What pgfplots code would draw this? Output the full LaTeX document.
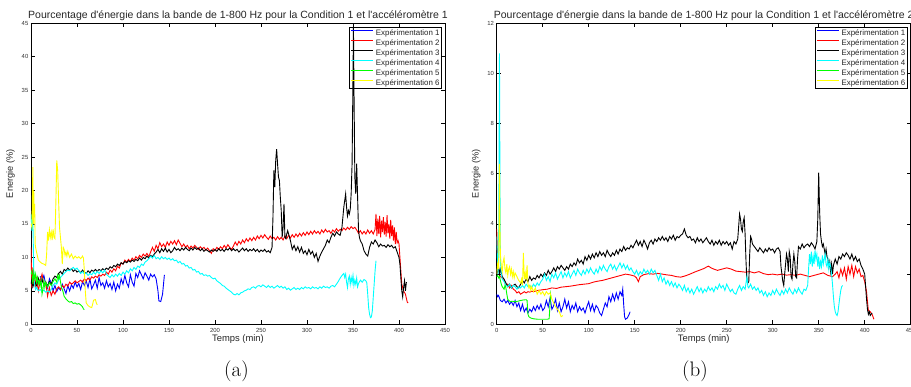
\documentclass[border=0pt]{standalone}
\usepackage{pgfplots}
\pgfplotsset{compat=1.18}
\usepackage{fontspec}
\newfontfamily\arial{Liberation Sans}
\definecolor{mblue}{rgb}{0,0,1}
\definecolor{mred}{rgb}{1,0,0}
\definecolor{mcyan}{rgb}{0,1,1}
\definecolor{mgreen}{rgb}{0,1,0}
\definecolor{myellow}{rgb}{1,1,0}
\pgfplotsset{
  myax/.style={
    scale only axis, width=414pt, height=301pt, anchor=south west,
    xmin=0, xmax=450, xtick={0,50,...,450},
    tick align=inside, tick pos=both, xticklabel pos=lower, yticklabel pos=left,
    major tick length=4pt,
    axis line style={black, line width=0.8pt},
    every tick/.style={black, line width=0.6pt},
    /pgf/number format/assume math mode=true,
    ticklabel style={font=\arial\fontsize{5.9}{6}\selectfont, text=black!80},
    yticklabel style={inner sep=0pt, xshift=-2.5pt},
    xticklabel style={inner sep=0pt, yshift=-3.4pt},
    every axis title/.style={at={(axis description cs:0.5,1.016)}, anchor=base, font=\arial\fontsize{10.5}{12}\selectfont, text=black!85},
    every axis x label/.style={at={(axis description cs:0.5,-0.057)}, anchor=base, font=\arial\fontsize{9.4}{10}\selectfont, text=black!85},
    every axis y label/.style={at={(axis description cs:-0.0435,0.5)}, rotate=90, anchor=base, font=\arial\fontsize{9.2}{10}\selectfont, text=black!85},
    xlabel={Temps (min)}, ylabel={Energie (\%)},
    no markers, every axis plot/.append style={line width=0.9pt},
    legend cell align=left,
    legend image code/.code={\draw[#1, line width=1pt] (0pt,2.6pt) -- (22pt,2.6pt);},
    legend style={at={(axis description cs:0.992,0.988)}, anchor=north east,
      draw=black, line width=0.8pt, fill=none, inner sep=1.2pt,
      font=\arial\fontsize{7.9}{8}\selectfont, text=black!85,
      nodes={inner sep=0.5pt, text height=6pt, text depth=1.5pt},
      row sep=1.5pt, column sep=1.5pt},
  }
}
\begin{document}
\begin{tikzpicture}
%%%%%%%%%%%%%%%%%%%%%%%%%%%%%%%% (a)
\begin{axis}[myax, at={(31pt,62.7pt)}, ymin=0, ymax=45, ytick={0,5,...,45},
  title={Pourcentage d'énergie dans la bande de 1-800 Hz pour la Condition 1 et l'accéléromètre 1}]
\addplot[mblue] coordinates {(10,7.2)(12,6.5)(14,7.3)(16,6.0)(18,5.4)(20,6.8)(22,6.2)(24,5.0)(26,5.8)(28,4.9)(30,5.5)(32,5.1)(34,6.0)(36,5.3)(38,4.6)(40,5.8)(42,5.0)(44,5.9)(46,5.4)(48,6.3)(50,5.6)(52,6.1)(54,5.2)(56,6.4)(58,5.8)(60,6.5)(62,5.5)(64,6.8)(66,5.3)(68,5.9)(70,6.6)(72,5.4)(74,7.0)(76,5.8)(78,6.2)(80,5.4)(82,6.5)(84,5.6)(86,6.1)(88,5.2)(90,6.3)(92,5.0)(94,6.0)(96,5.4)(98,6.8)(100,6.0)(102,7.3)(104,6.2)(106,5.6)(108,7.4)(110,6.3)(112,5.7)(114,7.6)(116,7.0)(118,8.0)(120,7.4)(122,6.8)(124,7.7)(126,7.2)(128,6.6)(130,7.5)(132,7.1)(134,7.4)(136,6.8)(138,5.0)(139,3.5)(141,3.4)(143,4.5)(145,7.4)};
\addlegendentry{Expérimentation 1}
\addplot[mred] coordinates {(0,11.5)(0.5,8)(1,5.5)(2,8.5)(3,6)(4,7.2)(5,5.5)(6,6.8)(8,5.0)(10,6.5)(12,7.5)(14,5.8)(16,6.3)(18,4.2)(20,5.5)(22,4.3)(24,5.0)(26,4.5)(28,5.3)(30,5.6)(32,5.2)(34,5.8)(36,5.5)(38,6.0)(40,5.7)(42,6.3)(44,6.0)(46,6.2)(48,6.5)(50,6.2)(52,6.4)(54,6.6)(56,6.3)(58,6.8)(60,6.5)(62,6.9)(64,6.6)(66,7.1)(68,6.9)(70,7.2)(72,7.0)(74,7.4)(76,7.2)(78,7.5)(80,7.3)(82,7.8)(84,7.5)(86,8.1)(88,7.8)(90,8.3)(92,8.0)(94,8.7)(96,8.4)(98,9.2)(100,9.0)(102,9.6)(104,9.3)(106,9.7)(108,9.4)(110,9.9)(112,9.6)(114,10.1)(116,9.8)(118,10.3)(120,10.0)(122,10.5)(124,10.2)(126,10.6)(128,10.1)(130,10.8)(132,11.5)(134,10.9)(136,11.8)(138,11.3)(140,12.2)(142,11.6)(144,12.0)(146,11.5)(148,12.3)(150,11.8)(152,12.4)(154,12.0)(156,12.5)(158,11.9)(160,12.6)(162,12.1)(164,11.6)(166,12.0)(168,11.5)(170,11.8)(172,11.3)(174,11.7)(176,11.4)(178,11.8)(180,11.5)(182,11.2)(184,11.6)(186,11.3)(188,11.5)(190,11.1)(192,11.4)(194,11.0)(196,10.6)(198,11.3)(200,11.0)(202,11.5)(204,11.2)(206,11.6)(208,11.3)(210,11.8)(212,11.4)(214,11.9)(216,11.5)(218,11.2)(220,11.7)(222,12.3)(224,11.8)(226,12.4)(228,12.0)(230,12.6)(232,12.2)(234,12.8)(236,12.4)(238,12.9)(240,12.5)(242,13.0)(244,12.6)(246,13.2)(248,12.8)(250,13.3)(252,12.9)(254,13.4)(256,13.0)(258,12.7)(260,13.2)(262,12.8)(264,13.0)(266,12.6)(268,13.1)(270,12.7)(272,13.0)(274,12.6)(276,13.2)(278,12.8)(280,13.3)(282,12.9)(284,13.4)(286,13.0)(288,13.5)(290,13.1)(292,13.6)(294,13.2)(296,13.7)(298,13.3)(300,13.8)(302,13.4)(304,13.9)(306,13.5)(308,14.0)(310,13.6)(312,13.9)(314,13.5)(316,14.1)(318,13.7)(320,14.2)(322,13.8)(324,14.0)(326,13.6)(328,14.1)(330,13.8)(332,14.3)(334,13.9)(336,14.2)(338,14.0)(340,14.4)(342,14.1)(344,14.5)(346,14.2)(348,14.6)(350,14.3)(352,14.5)(354,14.1)(356,13.6)(358,14.0)(360,13.5)(362,13.9)(364,13.5)(366,14.1)(368,13.6)(370,14.0)(372,13.5)(374,14.2)(375,16.5)(376,13.2)(377,15.8)(378,13.5)(379,16.2)(380,13.0)(381,15.5)(382,13.8)(383,16.0)(384,13.4)(385,15.3)(386,13.1)(387,16.3)(388,13.6)(389,15.0)(390,12.8)(391,15.6)(392,13.2)(393,14.8)(394,12.5)(395,14.5)(396,12.0)(397,13.8)(398,12.2)(399,12.5)(400,12.0)(401,10.0)(402,8.0)(403,6.0)(405,5.0)(407,4.5)(409,3.3)(410,3.2)};
\addlegendentry{Expérimentation 2}
\addplot[black] coordinates {(0,6.0)(1,6.8)(2,5.6)(4,6.4)(6,5.8)(8,6.9)(10,6.2)(12,6.6)(14,5.9)(16,6.3)(18,5.7)(20,6.4)(22,6.0)(24,6.8)(26,7.2)(28,7.0)(30,7.6)(32,7.9)(34,7.5)(36,8.2)(38,8.0)(40,8.4)(42,8.1)(44,8.3)(46,7.9)(48,8.2)(50,7.8)(52,8.0)(54,7.7)(56,8.1)(58,7.8)(60,7.6)(62,8.0)(64,7.7)(66,8.1)(68,7.9)(70,8.2)(72,7.9)(74,8.2)(76,8.0)(78,8.3)(80,8.1)(82,8.4)(84,8.2)(86,8.6)(88,8.4)(90,8.8)(92,8.6)(94,9.0)(96,8.8)(98,9.2)(100,9.0)(102,9.4)(104,9.2)(106,9.5)(108,9.3)(110,9.6)(112,9.4)(114,9.7)(116,9.5)(118,9.9)(120,9.6)(122,10.0)(124,9.8)(126,10.2)(128,9.9)(130,10.3)(132,10.1)(134,10.5)(136,10.8)(138,11.2)(140,10.7)(142,11.3)(144,10.9)(146,11.4)(148,10.8)(150,11.2)(152,10.7)(154,11.0)(156,11.5)(158,11.1)(160,11.3)(162,11.0)(164,11.4)(166,11.1)(168,11.5)(170,11.2)(172,11.0)(174,11.4)(176,11.1)(178,11.5)(180,11.2)(182,11.4)(184,11.0)(186,11.3)(188,10.9)(190,11.2)(192,11.0)(194,10.8)(196,11.1)(198,10.9)(200,11.2)(202,10.9)(204,11.3)(206,11.0)(208,11.2)(210,10.9)(212,11.3)(214,11.1)(216,11.4)(218,11.0)(220,11.3)(222,11.0)(224,11.2)(226,10.8)(228,11.1)(230,11.4)(232,11.0)(234,11.3)(236,10.9)(238,11.2)(240,11.0)(242,11.3)(244,10.9)(246,11.2)(248,10.8)(250,11.1)(252,10.9)(254,11.2)(256,10.8)(258,11.0)(260,10.7)(262,11.5)(263,16.0)(264,23.0)(265,20.5)(266,24.5)(267,26.2)(268,24.0)(269,22.0)(270,21.5)(271,19.0)(272,17.0)(273,13.0)(274,14.5)(275,18.0)(276,13.0)(277,12.8)(278,13.5)(279,14.0)(280,13.5)(282,12.5)(284,11.2)(286,11.8)(288,11.0)(290,11.6)(292,10.8)(294,11.5)(296,10.6)(298,11.0)(300,10.4)(302,11.2)(304,10.5)(306,10.9)(308,10.0)(310,10.6)(312,9.4)(314,10.2)(316,10.8)(318,11.3)(320,11.8)(322,12.6)(324,12.2)(326,13.0)(328,13.6)(330,13.2)(332,13.8)(334,13.5)(336,13.3)(338,14.5)(339,16.0)(340,17.5)(341,18.5)(342,19.5)(343,17.5)(344,16.2)(345,17.0)(346,16.5)(347,17.2)(348,19.5)(349,24.0)(350,37.0)(350.5,44.5)(351,36.0)(352,22.0)(353,19.5)(354,24.0)(355,19.0)(356,14.0)(357,13.0)(358,12.5)(360,12.0)(362,11.0)(364,10.5)(366,10.2)(368,11.5)(370,12.3)(372,12.0)(374,12.6)(376,12.2)(378,11.6)(380,12.0)(382,11.7)(384,11.8)(386,11.5)(388,11.9)(390,11.6)(392,11.8)(394,11.4)(396,11.6)(398,10.8)(400,10.0)(401,9.0)(402,7.0)(403,5.0)(404,4.1)(405,5.5)(406,6.5)(407,5.0)(408,6.3)};
\addlegendentry{Expérimentation 3}
\addplot[mcyan] coordinates {(0,16.5)(1,14.0)(2,16.0)(3,8.0)(4,5.8)(5,5.2)(6,5.5)(8,5.0)(10,5.2)(12,4.9)(14,5.1)(16,4.8)(18,5.0)(20,4.8)(22,5.2)(24,5.8)(26,6.2)(28,6.0)(30,6.6)(32,7.0)(34,7.3)(36,7.6)(38,7.9)(40,8.1)(42,8.0)(44,8.3)(46,8.5)(48,8.2)(50,8.4)(52,8.0)(54,7.6)(56,7.9)(58,7.5)(60,7.7)(62,7.3)(64,7.6)(66,7.4)(68,7.8)(70,7.5)(72,7.9)(74,7.6)(76,8.0)(78,7.7)(80,8.1)(82,7.5)(84,7.2)(86,7.0)(88,7.4)(90,7.1)(92,7.5)(94,7.2)(96,7.6)(98,7.3)(100,7.8)(102,7.5)(104,8.0)(106,7.7)(108,8.3)(110,8.0)(112,8.5)(114,8.2)(116,8.7)(118,8.5)(120,9.0)(122,8.8)(124,9.3)(126,9.5)(128,9.8)(130,10.2)(132,9.9)(134,10.3)(136,9.8)(138,10.0)(140,9.7)(142,10.1)(144,9.8)(146,10.0)(148,9.7)(150,9.9)(152,9.6)(154,9.8)(156,9.5)(158,9.6)(160,9.2)(162,9.4)(164,9.0)(166,9.1)(168,8.7)(170,8.8)(172,8.4)(174,8.5)(176,8.1)(178,8.2)(180,7.8)(182,7.9)(184,7.5)(186,7.6)(188,7.3)(190,7.4)(192,7.2)(194,7.3)(196,7.0)(198,6.8)(200,6.9)(202,6.5)(204,6.3)(206,6.1)(208,5.8)(210,5.7)(212,5.4)(214,5.2)(216,5.0)(218,4.8)(220,4.5)(222,4.4)(224,4.6)(226,4.4)(228,4.7)(230,4.8)(232,5.0)(234,5.1)(236,5.3)(238,5.2)(240,5.5)(242,5.6)(244,5.4)(246,5.7)(248,5.8)(250,5.6)(252,5.9)(254,5.7)(256,5.5)(258,5.8)(260,5.5)(262,5.7)(264,5.4)(266,5.6)(268,5.8)(270,5.5)(272,5.7)(274,5.4)(276,5.6)(278,5.2)(280,5.4)(282,5.1)(284,5.3)(286,5.5)(288,5.2)(290,5.4)(292,5.2)(294,5.5)(296,5.3)(298,5.6)(300,5.4)(302,5.5)(304,5.3)(306,5.6)(308,5.4)(310,5.5)(312,5.3)(314,5.6)(316,5.4)(318,5.7)(320,5.5)(322,5.6)(324,5.4)(326,5.7)(328,5.8)(330,5.6)(332,6.0)(334,6.4)(336,6.9)(338,7.3)(340,7.6)(341,7.0)(342,7.5)(343,6.3)(344,5.5)(345,6.8)(346,7.2)(347,6.0)(348,7.0)(349,6.2)(350,7.3)(351,5.8)(352,6.6)(353,6.0)(354,6.9)(355,5.6)(356,6.1)(358,6.6)(360,6.3)(362,6.7)(364,6.5)(365,6.2)(366,4.5)(367,2.5)(368,1.5)(369,1.0)(370,1.1)(371,2.0)(372,4.0)(373,6.0)(374,8.0)(375,9.5)};
\addlegendentry{Expérimentation 4}
\addplot[mgreen] coordinates {(0,7.5)(1,8.0)(2,6.0)(3,7.8)(4,6.8)(5,7.5)(6,6.3)(7,7.0)(8,6.0)(9,6.5)(10,5.8)(11,6.6)(12,4.5)(13,5.2)(14,6.5)(15,5.5)(16,6.3)(18,5.6)(20,6.2)(22,5.8)(24,6.4)(26,6.8)(28,6.3)(29,7.3)(30,6.8)(31,7.3)(32,6.4)(33,5.6)(34,5.2)(35,4.8)(36,4.2)(38,3.8)(40,3.5)(42,3.3)(44,3.4)(46,3.1)(48,3.2)(50,3.0)(52,3.1)(54,2.9)(56,2.6)(57,2.3)(58,2.2)};
\addlegendentry{Expérimentation 5}
\addplot[myellow] coordinates {(0,15.0)(1,14.5)(1.5,18.5)(2,23.5)(2.5,15.0)(3,20.0)(3.5,16.0)(4,18.0)(4.5,12.0)(5,11.5)(6,10.8)(7,10.2)(8,9.6)(10,9.3)(12,9.1)(14,9.0)(16,8.8)(17,10.5)(18,13.8)(19,12.5)(20,14.1)(21,13.0)(22,13.8)(23,12.6)(24,14.2)(25,13.0)(26,12.8)(27,18.0)(28,24.5)(29,23.0)(30,18.5)(31,14.5)(32,13.0)(33,11.5)(34,9.0)(35,11.5)(36,11.2)(37,10.3)(38,10.8)(39,10.2)(40,10.9)(42,10.0)(44,10.5)(46,9.8)(48,10.2)(50,9.9)(52,10.1)(54,9.8)(56,10.2)(57,9.9)(58,8.0)(59,5.0)(60,3.2)(62,2.8)(64,2.6)(66,2.5)(67,3.0)(68,3.6)(70,3.7)(71,3.2)(72,2.9)};
\addlegendentry{Expérimentation 6}
\end{axis}
%%%%%%%%%%%%%%%%%%%%%%%%%%%%%%%% (b)
\begin{axis}[myax, at={(496.7pt,62.7pt)}, ymin=0, ymax=12, ytick={0,2,...,12},
  title={Pourcentage d'énergie dans la bande de 1-800 Hz pour la Condition 1 et l'accéléromètre 2}]
\addplot[mblue] coordinates {(0,1.2)(1,1.1)(2,1.15)(4,0.95)(6,0.9)(8,1.0)(10,0.85)(12,0.95)(14,0.8)(16,0.9)(18,0.75)(20,0.95)(22,0.7)(24,0.85)(26,0.55)(28,0.8)(30,0.5)(32,0.65)(34,0.45)(36,0.6)(38,0.5)(40,0.7)(42,0.55)(44,0.75)(46,0.6)(48,0.8)(50,0.55)(52,0.65)(54,0.95)(56,0.7)(58,1.05)(60,0.6)(62,0.75)(64,1.0)(66,0.55)(68,0.85)(70,0.5)(72,0.7)(74,1.0)(76,0.65)(78,0.9)(80,0.5)(82,0.75)(84,0.6)(86,0.85)(88,0.5)(90,0.7)(92,0.55)(94,0.65)(96,0.45)(98,0.7)(100,0.9)(102,0.55)(104,0.8)(106,0.5)(108,0.75)(110,0.65)(112,0.45)(114,0.35)(116,0.6)(118,0.85)(120,0.7)(122,1.1)(124,0.9)(126,1.2)(128,0.95)(130,1.25)(132,1.0)(134,1.3)(136,1.15)(137,1.4)(138,0.8)(139,0.3)(140,0.2)(142,0.25)(144,0.4)(145,0.5)};
\addlegendentry{Expérimentation 1}
\addplot[mred] coordinates {(0,3.8)(1,2.6)(2,2.2)(3,2.0)(4,1.9)(6,1.85)(8,1.8)(10,1.55)(12,1.6)(14,1.45)(16,1.55)(18,1.4)(20,1.35)(22,1.25)(24,1.3)(26,1.2)(28,1.25)(30,1.3)(32,1.25)(34,1.3)(36,1.28)(38,1.32)(40,1.3)(45,1.35)(50,1.38)(55,1.4)(60,1.45)(65,1.43)(70,1.48)(75,1.5)(80,1.52)(85,1.55)(90,1.58)(95,1.6)(100,1.62)(105,1.68)(110,1.72)(115,1.75)(120,1.8)(125,1.85)(130,1.9)(135,1.95)(140,2.0)(145,1.97)(150,1.92)(152,1.85)(154,1.7)(156,1.9)(160,1.98)(165,2.02)(170,2.0)(175,2.03)(180,2.0)(185,1.97)(190,1.95)(195,1.9)(200,1.88)(205,1.93)(210,2.0)(215,2.08)(220,2.15)(225,2.22)(230,2.32)(233,2.25)(236,2.2)(240,2.15)(245,2.2)(250,2.25)(255,2.2)(260,2.12)(265,2.1)(270,2.08)(275,2.1)(280,2.05)(285,2.1)(290,2.02)(295,1.98)(300,2.0)(305,1.97)(310,2.0)(315,1.96)(320,1.98)(325,1.95)(330,2.0)(335,1.95)(340,1.9)(345,1.95)(350,2.0)(355,2.05)(360,1.95)(365,1.9)(368,2.0)(370,2.1)(372,1.85)(374,2.2)(376,1.95)(378,2.25)(380,1.8)(382,2.3)(384,2.0)(386,2.35)(388,1.9)(390,2.3)(392,2.05)(394,2.2)(396,1.9)(398,1.95)(400,1.7)(402,1.3)(403,0.9)(404,0.55)(406,0.5)(408,0.4)(409,0.3)(410,0.2)};
\addlegendentry{Expérimentation 2}
\addplot[black] coordinates {(0,2.4)(1,2.1)(2,2.3)(3,2.0)(4,2.2)(6,1.9)(8,1.8)(10,1.65)(12,1.5)(14,1.6)(16,1.45)(18,1.55)(20,1.6)(22,1.5)(24,1.45)(26,1.6)(28,1.75)(30,1.65)(32,1.8)(34,1.7)(36,1.9)(38,1.75)(40,1.85)(42,1.8)(44,1.95)(46,1.85)(48,2.0)(50,1.9)(52,2.05)(54,1.95)(56,2.15)(58,2.0)(60,2.1)(62,2.25)(64,2.1)(66,2.3)(68,2.2)(70,2.35)(72,2.25)(74,2.15)(76,2.3)(78,2.2)(80,2.4)(82,2.3)(84,2.45)(86,2.35)(88,2.6)(90,2.45)(92,2.55)(94,2.4)(96,2.7)(98,2.55)(100,2.75)(102,2.6)(104,2.8)(106,2.65)(108,2.85)(110,2.7)(112,2.9)(114,2.75)(116,2.85)(118,2.7)(120,2.95)(122,2.8)(124,2.7)(126,2.85)(128,2.75)(130,2.95)(132,2.8)(134,3.0)(136,2.9)(138,3.1)(140,2.95)(142,3.05)(144,3.0)(146,3.15)(148,3.05)(150,3.2)(152,3.35)(154,3.15)(156,3.3)(158,3.1)(160,3.35)(162,3.2)(164,3.0)(166,3.25)(168,3.35)(170,3.2)(172,3.4)(174,3.3)(176,3.45)(178,3.35)(180,3.5)(182,3.35)(184,3.45)(186,3.3)(188,3.5)(190,3.4)(192,3.55)(194,3.35)(196,3.5)(198,3.45)(200,3.55)(202,3.6)(204,3.8)(206,3.55)(208,3.45)(210,3.5)(212,3.35)(214,3.4)(216,3.25)(218,3.45)(220,3.3)(222,3.4)(224,3.25)(226,3.35)(228,3.45)(230,3.3)(232,3.2)(234,3.35)(236,3.15)(238,3.3)(240,3.2)(242,3.35)(244,3.15)(246,3.3)(248,3.2)(250,3.3)(252,3.15)(254,3.25)(256,3.0)(258,3.3)(260,3.2)(262,3.4)(264,4.4)(265,4.2)(266,3.8)(267,3.7)(268,4.1)(269,4.25)(270,3.6)(271,2.5)(272,1.7)(273,1.65)(274,1.7)(275,2.8)(276,3.5)(277,3.4)(278,3.2)(280,3.1)(282,3.0)(284,2.9)(286,3.05)(288,2.95)(290,2.85)(292,3.0)(294,2.9)(296,3.05)(298,2.95)(300,3.0)(302,2.85)(304,3.0)(306,3.05)(308,2.9)(309,2.3)(310,2.0)(311,1.7)(312,1.55)(313,2.0)(314,2.4)(315,2.8)(316,2.6)(317,2.1)(318,2.9)(319,2.7)(320,1.9)(321,1.8)(322,2.4)(323,2.8)(324,2.5)(325,1.9)(326,1.85)(327,2.6)(328,3.1)(330,3.0)(332,3.2)(334,3.05)(336,3.15)(338,3.2)(340,3.1)(342,3.25)(344,3.15)(346,3.0)(348,3.3)(349,4.2)(350,6.05)(351,4.5)(352,3.6)(353,3.3)(354,3.1)(355,3.2)(356,3.0)(357,2.8)(358,3.0)(359,2.7)(360,2.6)(361,2.3)(362,2.5)(363,2.1)(364,2.4)(365,2.0)(366,2.35)(368,2.6)(370,2.4)(372,2.7)(374,2.6)(376,2.8)(378,2.7)(380,2.85)(382,2.75)(384,2.6)(386,2.8)(388,2.55)(390,2.7)(392,2.5)(394,2.6)(396,2.35)(398,2.2)(400,2.0)(401,1.5)(402,1.0)(403,0.6)(404,0.4)(405,0.5)(406,0.35)(407,0.4)(408,0.45)};
\addlegendentry{Expérimentation 3}
\addplot[mcyan] coordinates {(0,3.5)(0.5,3.0)(1,2.4)(1.5,2.0)(2,2.6)(2.5,6.0)(3,10.8)(3.5,6.0)(4,2.5)(5,2.0)(6,1.8)(8,1.7)(10,1.55)(12,1.5)(14,1.6)(16,1.45)(18,1.55)(20,1.5)(22,1.4)(24,1.5)(26,1.45)(28,1.55)(30,1.45)(32,1.6)(34,1.5)(36,1.55)(38,1.45)(40,1.6)(42,1.5)(44,1.65)(46,1.55)(48,1.7)(50,1.8)(52,2.0)(54,1.75)(56,1.9)(58,1.7)(60,2.0)(62,1.85)(64,2.05)(66,1.8)(68,1.95)(70,2.1)(72,1.85)(74,2.05)(76,1.9)(78,2.1)(80,1.85)(82,2.0)(84,2.15)(86,1.95)(88,2.2)(90,2.05)(92,1.95)(94,2.15)(96,2.0)(98,2.2)(100,2.05)(102,2.25)(104,2.1)(106,2.0)(108,2.2)(110,2.05)(112,2.3)(114,2.15)(116,2.35)(118,2.2)(120,2.1)(122,2.3)(124,2.4)(126,2.2)(128,2.35)(130,2.15)(132,2.3)(134,2.45)(136,2.25)(138,2.4)(140,2.2)(142,2.35)(144,2.15)(146,2.25)(148,2.1)(150,2.0)(152,2.15)(154,1.95)(156,2.1)(158,2.0)(160,2.2)(162,2.05)(164,2.15)(166,2.0)(168,2.2)(170,2.05)(172,2.15)(174,1.95)(176,1.75)(178,2.0)(180,1.7)(182,1.85)(184,1.6)(186,1.75)(188,1.55)(190,1.7)(192,1.5)(194,1.65)(196,1.45)(198,1.6)(200,1.5)(202,1.35)(204,1.55)(206,1.3)(208,1.45)(210,1.25)(212,1.4)(214,1.2)(216,1.35)(218,1.5)(220,1.3)(222,1.45)(224,1.25)(226,1.4)(228,1.3)(230,1.5)(232,1.35)(234,1.45)(236,1.3)(238,1.5)(240,1.4)(242,1.6)(244,1.45)(246,1.55)(248,1.35)(250,1.6)(252,1.45)(254,1.3)(256,1.4)(258,1.25)(260,1.2)(262,1.4)(264,1.55)(266,1.35)(268,1.5)(270,1.4)(272,1.9)(273,1.5)(274,1.45)(276,1.6)(278,1.4)(280,1.5)(282,1.35)(284,1.45)(286,1.25)(288,1.35)(290,1.15)(292,1.3)(294,1.1)(296,1.25)(298,1.15)(300,1.35)(302,1.2)(304,1.4)(306,1.25)(308,1.15)(310,1.35)(312,1.2)(314,1.4)(316,1.25)(318,1.45)(320,1.3)(322,1.2)(324,1.4)(326,1.25)(328,1.45)(330,1.3)(332,1.2)(334,1.4)(336,1.35)(338,1.55)(339,2.2)(340,2.8)(341,2.4)(342,2.9)(343,2.3)(344,2.7)(345,2.4)(346,2.95)(347,2.6)(348,2.8)(349,2.3)(350,2.7)(351,2.2)(352,2.5)(353,2.3)(354,2.75)(355,2.4)(356,2.6)(357,2.8)(358,2.4)(359,2.3)(360,2.6)(361,2.2)(362,2.45)(363,2.3)(364,2.0)(365,1.6)(366,1.1)(367,0.7)(368,0.5)(369,0.4)(370,0.35)(371,0.5)(372,0.8)(373,1.1)(374,1.35)(375,1.5)(376,1.55)};
\addlegendentry{Expérimentation 4}
\addplot[mgreen] coordinates {(0,1.9)(1,1.95)(2,1.85)(3,1.9)(4,1.75)(5,1.6)(6,1.5)(7,1.45)(8,1.4)(9,1.55)(10,1.45)(11,1.2)(12,1.0)(13,0.95)(15,0.9)(17,0.92)(20,0.9)(23,0.92)(26,0.95)(29,0.97)(32,0.98)(33,0.95)(34,0.4)(35,0.3)(37,0.25)(40,0.22)(45,0.2)(50,0.2)(55,0.2)(57,0.22)(58,0.8)(58.5,1.2)(59,1.1)};
\addlegendentry{Expérimentation 5}
\addplot[myellow] coordinates {(0,2.0)(1,2.4)(2,2.2)(2.5,3.5)(3,6.4)(3.5,4.0)(4,2.8)(5,2.3)(6,2.1)(7,2.5)(8,2.65)(9,2.2)(10,2.05)(11,2.4)(12,1.95)(13,2.2)(14,2.3)(15,2.0)(16,2.2)(17,1.9)(18,2.1)(19,1.85)(20,2.05)(22,1.9)(24,1.75)(26,1.65)(27,1.8)(28,1.55)(29,2.85)(30,1.8)(31,2.05)(32,1.75)(33,2.35)(34,1.6)(35,1.45)(36,1.55)(37,1.35)(38,1.5)(40,1.3)(42,1.45)(44,1.2)(46,1.35)(48,1.2)(50,1.3)(52,1.15)(54,1.3)(56,1.2)(58,1.25)(60,1.0)(62,0.85)(64,0.7)(66,0.6)(68,0.5)(70,0.3)(72,0.35)};
\addlegendentry{Expérimentation 6}
\end{axis}
\node[font=\fontsize{21}{24}\selectfont] at (236.5pt,15.3pt) {(a)};
\node[font=\fontsize{21}{24}\selectfont] at (695pt,15.3pt) {(b)};
\pgfresetboundingbox
\path[use as bounding box] (0pt,0pt) rectangle (911pt,387pt);
\end{tikzpicture}
\end{document}
